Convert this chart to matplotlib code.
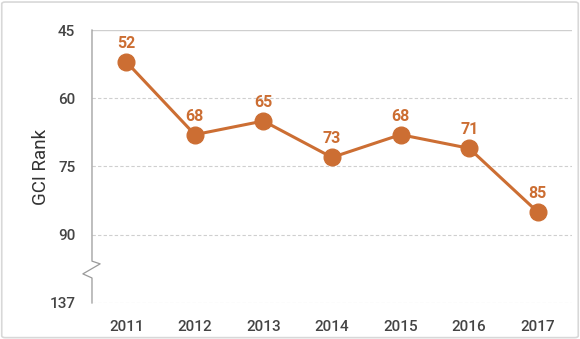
import matplotlib.pyplot as plt
from matplotlib.patches import FancyBboxPatch

# data
years = ['2011', '2012', '2013', '2014', '2015', '2016', '2017']
rank = [52, 68, 65, 73, 68, 71, 85]
tick_pos = [45, 60, 75, 90, 105]          # 105 stands in for 137 below the axis break
tick_labels = ['45', '60', '75', '90', '137']

orange = '#CC6E33'
plt.rcParams['font.family'] = ['Roboto', 'DejaVu Sans']

fig = plt.figure(figsize=(5.8, 3.39), dpi=100)
fig.patches.append(FancyBboxPatch((0.003, 0.004), 0.994, 0.99, boxstyle='round,pad=0,rounding_size=0.006',
                                  transform=fig.transFigure, fc='none', ec='#d8d8d8', lw=1.2))
ax = fig.add_axes([0.1586, 0.1062, 0.8276, 0.8053])

x = range(len(years))
ax.plot(x, rank, color=orange, lw=2.2, marker='o', markersize=12, zorder=3)
for i, v in enumerate(rank):
    ax.annotate(str(v), (i, v), xytext=(0, 8), textcoords='offset points',
                ha='center', va='bottom', color=orange, fontsize=11.5, fontweight='bold')

ax.set_xlim(-0.5, len(years) - 0.5)
ax.set_ylim(105, 45)
ax.set_xticks(list(x))
ax.set_xticklabels(years)
ax.set_yticks(tick_pos)
ax.set_yticklabels(tick_labels)
ax.tick_params(length=0, labelsize=11, labelcolor='#444444')
for lab in ax.get_xticklabels() + ax.get_yticklabels():
    lab.set_fontweight('medium')
ax.tick_params(axis='y', pad=12)
ax.tick_params(axis='x', pad=12)
ax.set_ylabel('GCI Rank', fontsize=13.5, color='#333333')
ax.yaxis.set_label_coords(-0.088, 0.5)

for s in ax.spines.values():
    s.set_visible(False)
for t in tick_pos[1:]:
    ax.axhline(t, color='#cfcfcf', lw=0.8, ls=(0, (3, 2)), zorder=1)
ax.axhline(45, color='#cfcfcf', lw=1.0, zorder=1)

# left axis line with a break mark
tr = ax.get_yaxis_transform()
ax.plot([0, 0, 0.017, -0.019, 0, 0], [45, 95.8, 96.4, 98.6, 99.5, 105],
        color='#9a9a9a', lw=0.9, transform=tr, clip_on=False, zorder=2)

fig.savefig('out.png', dpi=100)
